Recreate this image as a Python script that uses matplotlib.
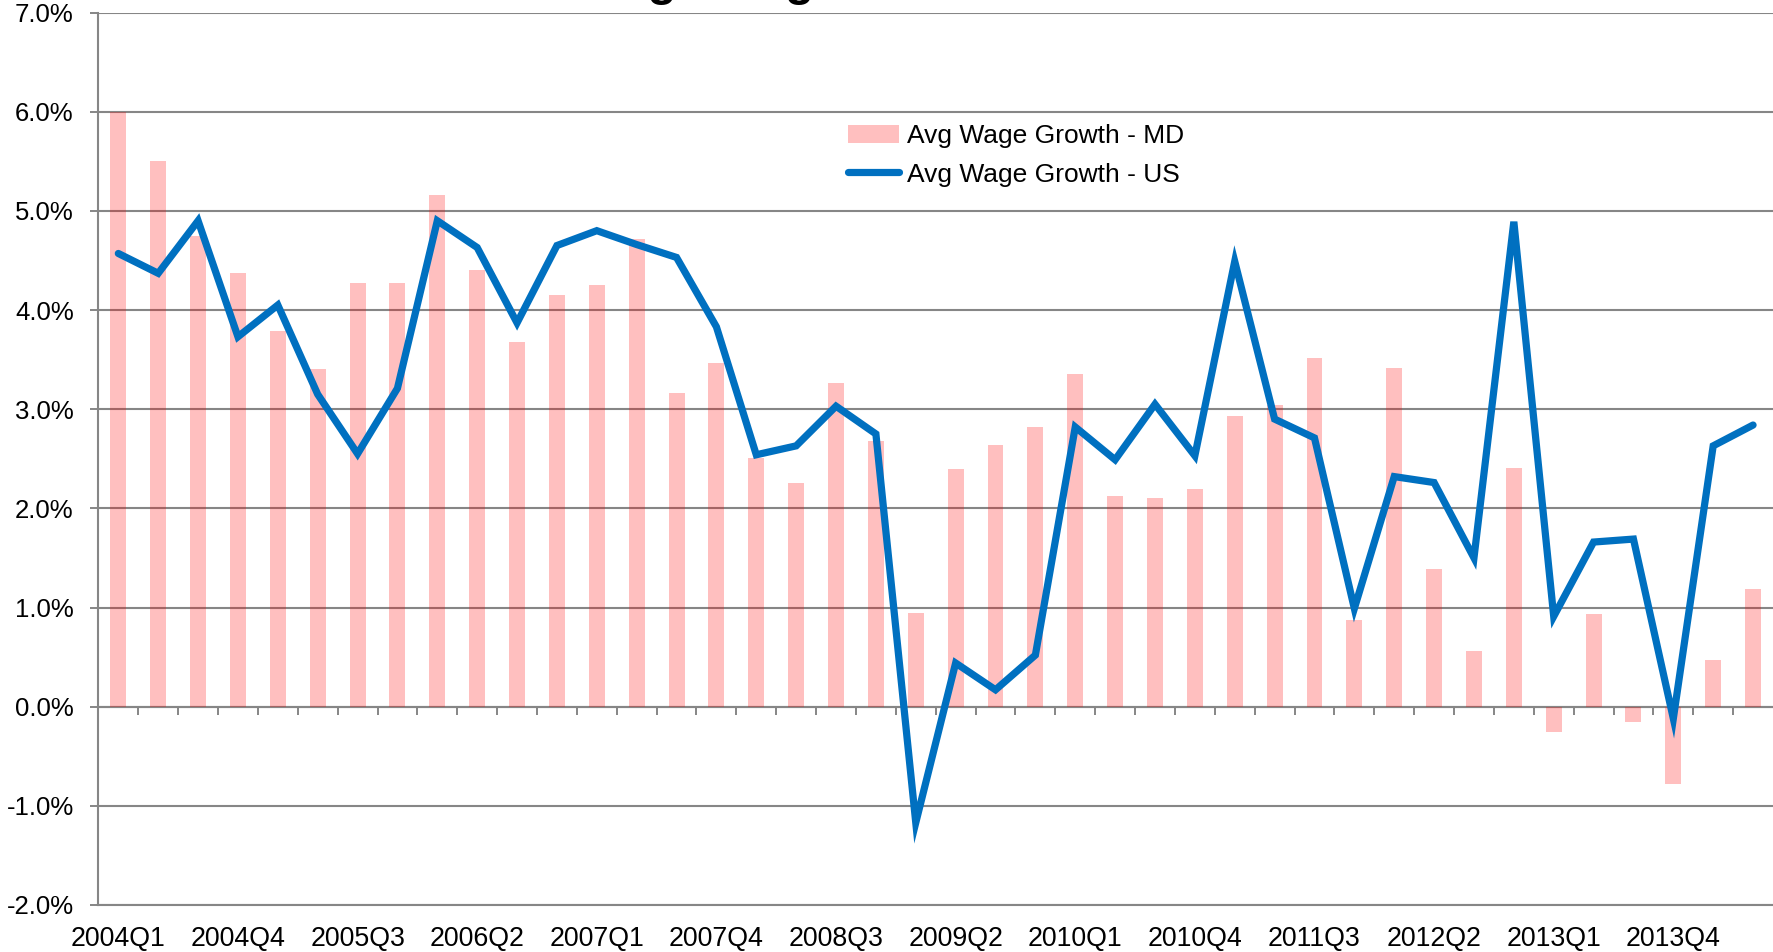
import matplotlib
matplotlib.use("Agg")
import matplotlib.pyplot as plt
from matplotlib.ticker import FuncFormatter, FixedLocator

plt.rcParams['font.family'] = ['Liberation Sans', 'DejaVu Sans']

quarters = ["2004Q1", "2004Q2", "2004Q3", "2004Q4", "2005Q1", "2005Q2", "2005Q3", "2005Q4",
            "2006Q1", "2006Q2", "2006Q3", "2006Q4", "2007Q1", "2007Q2", "2007Q3", "2007Q4",
            "2008Q1", "2008Q2", "2008Q3", "2008Q4", "2009Q1", "2009Q2", "2009Q3", "2009Q4",
            "2010Q1", "2010Q2", "2010Q3", "2010Q4", "2011Q1", "2011Q2", "2011Q3", "2011Q4",
            "2012Q1", "2012Q2", "2012Q3", "2012Q4", "2013Q1", "2013Q2", "2013Q3", "2013Q4",
            "2014Q1", "2014Q2"]

md_growth = [6.00, 5.50, 4.75, 4.37, 3.79, 3.41, 4.27, 4.27, 5.16, 4.40, 3.68, 4.15,
             4.25, 4.72, 3.16, 3.47, 2.51, 2.26, 3.26, 2.68, 0.94, 2.40, 2.64, 2.82,
             3.35, 2.12, 2.10, 2.19, 2.93, 3.04, 3.52, 0.87, 3.42, 1.39, 0.56, 2.41,
             -0.26, 0.93, -0.15, -0.78, 0.47, 1.19]

us_growth = [4.57, 4.37, 4.90, 3.73, 4.05, 3.15, 2.55, 3.21, 4.90, 4.63, 3.87, 4.65,
             4.80, 4.66, 4.53, 3.83, 2.54, 2.63, 3.03, 2.75, -1.17, 0.44, 0.17, 0.52,
             2.82, 2.49, 3.05, 2.53, 4.49, 2.90, 2.71, 0.99, 2.32, 2.26, 1.50, 4.89,
             0.91, 1.66, 1.69, -0.12, 2.63, 2.84]

title_text = "Average Wage Growth"
md_label = "Avg Wage Growth - MD"
us_label = "Avg Wage Growth - US"
y_ticks = [-2, -1, 0, 1, 2, 3, 4, 5, 6, 7]

W, H = 1773, 952
fig = plt.figure(figsize=(W / 100, H / 100), dpi=100)
ax = fig.add_axes([98.4 / W, 1 - 905 / H, 1 - 98.4 / W, (905 - 12.5) / H])

grid_col = "#868686"
x = list(range(len(quarters)))

ax.set_axisbelow(True)
ax.yaxis.grid(True, color=grid_col, linewidth=1.5, zorder=0)
bars = ax.bar(x, md_growth, width=0.40, color=(1, 0, 0, 0.25), zorder=2, label=md_label,
              linewidth=0)
line, = ax.plot(x, us_growth, color="#0070C0", linewidth=5.2, zorder=3, label=us_label,
                solid_joinstyle="miter", solid_capstyle="round")

ax.set_xlim(-0.5, len(quarters) - 0.5)
ax.set_ylim(-2, 7)
ax.set_yticks(y_ticks)
ax.yaxis.set_major_formatter(FuncFormatter(lambda v, p: f"{v:.1f}%"))
ax.tick_params(axis="y", direction="out", length=5.8, width=1.4, color=grid_col,
               labelsize=18.5, pad=12)

ax.set_xticks(x[::3])
ax.set_xticklabels(quarters[::3])
ax.tick_params(axis="x", length=0, labelsize=19.3, pad=15)

for s in ["top", "right"]:
    ax.spines[s].set_visible(False)
ax.spines["left"].set_color(grid_col)
ax.spines["left"].set_linewidth(1.5)
ax.spines["bottom"].set_color(grid_col)
ax.spines["bottom"].set_linewidth(1.5)

# category axis crossing at 0%
sec = ax.secondary_xaxis(2 / 9)
sec.xaxis.set_major_locator(FixedLocator([i + 0.5 for i in x[:-1]]))
sec.tick_params(axis="x", direction="out", length=5.8, width=1.4, color=grid_col,
                labelbottom=False, labeltop=False)
sec.spines["bottom"].set_color(grid_col)
sec.spines["bottom"].set_linewidth(1.5)
for s in ["top", "left", "right"]:
    if s in sec.spines:
        sec.spines[s].set_visible(False)

leg = ax.legend([bars, line], [md_label, us_label],
                loc="upper left", bbox_to_anchor=(848 / W, 1 - 124 / H),
                bbox_transform=fig.transFigure, frameon=False, fontsize=19,
                handlelength=1.93, handletextpad=0.3, labelspacing=0.55, borderpad=0,
                borderaxespad=0)

fig.text(518 / W, 1 + 5 / H, title_text, fontsize=34, fontweight="bold",
         ha="left", va="baseline")

fig.savefig("out.png", dpi=100)
